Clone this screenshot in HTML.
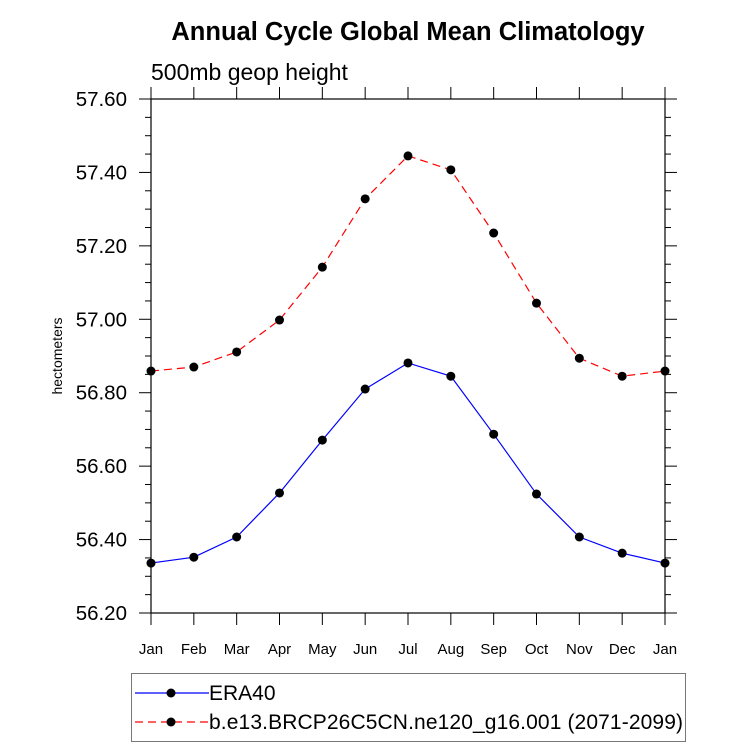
<!DOCTYPE html>
<html><head><meta charset="utf-8"><style>
body{margin:0;background:#fff;width:733px;height:748px;overflow:hidden}
svg{font-family:"Liberation Sans",sans-serif}
</style></head><body>
<svg id="c" width="733" height="748">
<text x="408" y="40" text-anchor="middle" font-size="25.5" font-weight="bold">Annual Cycle Global Mean Climatology</text>
<text x="151" y="80" font-size="23">500mb geop height</text>
<text transform="translate(62,356) rotate(-90)" text-anchor="middle" font-size="14">hectometers</text>
<g id="axes"></g><g id="series"></g>
<rect x="131.5" y="673.5" width="554" height="68" fill="none" stroke="#777" stroke-width="1"/>
<g>
<line x1="135" y1="693" x2="209" y2="693" stroke="#00f" stroke-width="1.2"/><circle cx="171" cy="693" r="4.5"/>
<text x="209" y="700" font-size="21">ERA40</text></g>
<g>
<line x1="135" y1="722" x2="209" y2="722" stroke="#f00" stroke-width="1.2" stroke-dasharray="8,5"/><circle cx="171" cy="722" r="4.5"/>
<text x="209" y="729" font-size="21" textLength="474">b.e13.BRCP26C5CN.ne120_g16.001 (2071-2099)</text></g>
</svg>
<script>
const months=["Jan","Feb","Mar","Apr","May","Jun","Jul","Aug","Sep","Oct","Nov","Dec","Jan"];
const era40=[56.336,56.352,56.407,56.527,56.671,56.810,56.881,56.845,56.687,56.524,56.407,56.363,56.336];
const model=[56.859,56.870,56.911,56.998,57.142,57.328,57.445,57.407,57.235,57.044,56.894,56.845,56.859];
const yTicks=[56.2,56.4,56.6,56.8,57.0,57.2,57.4,57.6];
const yTickLabels=["56.20","56.40","56.60","56.80","57.00","57.20","57.40","57.60"];
const X0=151,X1=665,Y0=613,Y1=99,YMIN=56.2,YMAX=57.6;
const xs=i=>X0+(X1-X0)*i/(months.length-1);
const ys=v=>Y0-(v-YMIN)/(YMAX-YMIN)*(Y0-Y1);
const NS="http://www.w3.org/2000/svg";
function mk(t,a,p){const e=document.createElementNS(NS,t);for(const k in a)e.setAttribute(k,a[k]);p.appendChild(e);return e;}
const ax=document.getElementById('axes');
const fr=mk('rect',{x:X0,y:Y1,width:X1-X0,height:Y0-Y1,fill:'none',stroke:'#000','stroke-width':1.2},ax);


for(let v=56.2;v<=57.6001;v+=0.05){const y=ys(v);const maj=Math.abs(Math.round(v*5)-v*5)<1e-6;const L=maj?12:6;
mk('line',{x1:X0-L,x2:X0,y1:y,y2:y,stroke:'#000'},ax);mk('line',{x1:X1,x2:X1+L,y1:y,y2:y,stroke:'#000'},ax);}
yTicks.forEach((v,i)=>{const t=mk('text',{x:X0-24,y:ys(v)+7,'text-anchor':'end','font-size':20.5},ax);t.textContent=yTickLabels[i];

});
months.forEach((m,i)=>{const x=xs(i);mk('line',{x1:x,x2:x,y1:Y0,y2:Y0+12,stroke:'#000'},ax);mk('line',{x1:x,x2:x,y1:Y1-12,y2:Y1,stroke:'#000'},ax);
const t=mk('text',{x:x,y:654,'text-anchor':'middle','font-size':15},ax);t.textContent=m;

});
const sg=document.getElementById('series');
function draw(vals,color,dash,name){const g=mk('g',{},sg);


mk('polyline',{points:vals.map((v,i)=>xs(i)+','+ys(v)).join(' '),fill:'none',stroke:color,'stroke-width':1.2,'stroke-dasharray':dash},g);
vals.forEach((v,i)=>mk('circle',{cx:xs(i),cy:ys(v),r:4.5,fill:'#000'},g));}
draw(era40,'#00f','none','series-era40');
draw(model,'#f00','8,5','series-model');
</script>
</body></html>
